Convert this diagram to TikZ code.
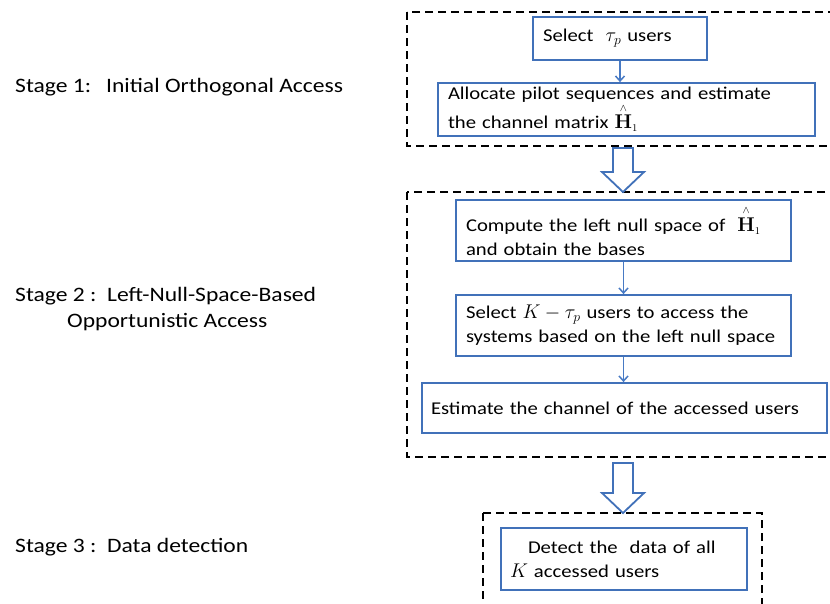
\documentclass[tikz,border=0pt]{standalone}
\usepackage{amsmath}
\usepackage{graphicx}
\usepackage[no-math]{fontspec}
\setmainfont{Carlito}[FakeStretch=1.15]
\usetikzlibrary{arrows.meta}
\definecolor{boxblue}{RGB}{65,113,185}
\definecolor{arrowblue}{RGB}{72,122,196}
\newcommand{\mth}[1]{\scalebox{1.15}{$#1$}}
\newcommand{\Hhat}{\mth{\overset{\scriptscriptstyle\wedge}{\mathbf{H}}_{\scriptscriptstyle 1}}}

\begin{document}
\begin{tikzpicture}[x=1pt,y=-1pt,
    every node/.style={font=\fontsize{18}{24}\selectfont},
    flowbox/.style={draw=boxblue,line width=1.8pt,align=left,inner xsep=10pt,inner ysep=0pt},
    stagebox/.style={draw=black,line width=1.4pt,dash pattern=on 8pt off 5pt},
    flowarrow/.style={draw=arrowblue,line width=1.5pt,-{Straight Barb[length=5pt,width=9pt]}},
    bigarrow/.style={draw=boxblue,line width=1.8pt,fill=white},
    stagelabel/.style={anchor=base west,inner sep=0pt,font=\fontsize{20.5}{26}\selectfont}]
  \clip (0,0) rectangle (830,603);
  % stage frames
  \draw[stagebox] (407,12) rectangle (845,146);
  \draw[stagebox] (407,192) rectangle (845,457);
  \draw[stagebox] (483,513) rectangle (762,615);
  % stage titles
  \node[stagelabel] (s1) at (15,92) {Stage 1:\hspace{15pt}Initial Orthogonal Access};
  \node[stagelabel] (s2) at (15,301) {Stage 2 :\ \ Left-Null-Space-Based};
  \node[stagelabel] (s2b) at (67,327) {Opportunistic Access};
  \node[stagelabel] (s3) at (15,552) {Stage 3 :\ \ Data detection};
  % stage 1
  \node[flowbox,text width=154pt,minimum height=43pt] (sel) at (620,38.5) {Select\ \ \mth{\tau_p} users};
  \node[flowbox,text width=357pt,minimum height=53pt] (alloc) at (626.5,109.5) {Allocate pilot sequences and estimate\\the channel matrix \Hhat};
  \draw[flowarrow] (sel.south) -- (sel.south |- alloc.north);
  % stage 2
  \node[flowbox,text width=315pt,minimum height=61pt] (comp) at (623.5,230.5) {Compute the left null space of\ \ \Hhat\\and obtain the bases};
  \node[flowbox,text width=315pt,minimum height=61pt] (selk) at (623.5,325.5) {Select \mth{K-\tau_p} users to access the\\systems based on the left null space};
  \node[flowbox,text width=387pt,inner xsep=9pt,minimum height=50pt] (est) at (624.5,408) {Estimate the channel of the accessed users};
  \draw[flowarrow] (comp.south) -- (comp.south |- selk.north);
  \draw[flowarrow] (selk.south) -- (selk.south |- est.north);
  % stage 3
  \node[flowbox,text width=228pt,inner xsep=9pt,minimum height=62pt] (det) at (624,559) {\hspace*{18pt}Detect the\ \ data of all\\\mth{K} accessed users};
  % hollow arrows between stages
  \draw[bigarrow] (613,148) -- (633,148) -- (633,172) -- (644,172) -- (623,192) -- (602,172) -- (613,172) -- cycle;
  \draw[bigarrow] (613,463) -- (633,463) -- (633,493) -- (644,493) -- (623,513) -- (602,493) -- (613,493) -- cycle;
\end{tikzpicture}
\end{document}
